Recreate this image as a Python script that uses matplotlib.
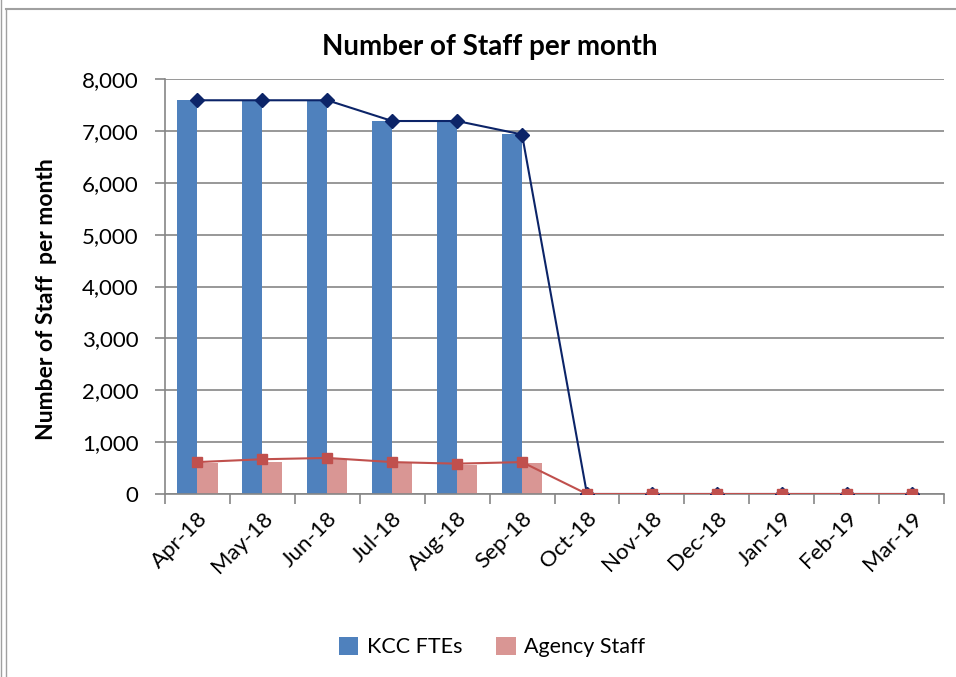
import matplotlib.pyplot as plt
import numpy as np
from matplotlib.lines import Line2D

plt.rcParams['font.family'] = ['Lato', 'DejaVu Sans']

months = ['Apr-18', 'May-18', 'Jun-18', 'Jul-18', 'Aug-18', 'Sep-18',
          'Oct-18', 'Nov-18', 'Dec-18', 'Jan-19', 'Feb-19', 'Mar-19']
kcc_ftes = [7600, 7600, 7600, 7190, 7190, 6940, 0, 0, 0, 0, 0, 0]
agency_staff = [600, 620, 675, 605, 565, 605, 0, 0, 0, 0, 0, 0]
kcc_line = [7590, 7590, 7590, 7190, 7190, 6930, 0, 0, 0, 0, 0, 0]
agency_line = [615, 670, 695, 615, 585, 615, 0, 0, 0, 0, 0, 0]

fig = plt.figure(figsize=(9.56, 6.77), dpi=100)
ax = fig.add_axes([165/956, 1-494/677, (944-165)/956, (494-79)/677])

x = np.arange(len(months))
w = 0.31
ax.bar(x - w/2, kcc_ftes, w, color='#4f81bd', label='KCC FTEs', zorder=2)
ax.bar(x + w/2, agency_staff, w, color='#d99694', label='Agency Staff', zorder=2)
ax.plot(x, kcc_line, color='#0c2468', marker='D', markersize=7, lw=1.5, zorder=3)
ax.plot(x, agency_line, color='#c0504d', marker='s', markersize=7, lw=1.5, zorder=3)

ax.set_xlim(-0.5, len(months) - 0.5)
ax.set_ylim(0, 8000)
ax.set_yticks(range(0, 8001, 1000))
ax.set_yticklabels([f'{v:,}' for v in range(0, 8001, 1000)], fontsize=16)
ax.set_xticks(np.arange(-0.5, len(months), 1), minor=False)
ax.set_xticklabels([])
ax.set_xticks(x, minor=True)
ax.set_xticklabels(months, minor=True, rotation=45, ha='right', rotation_mode='anchor', fontsize=16)
ax.tick_params(axis='x', which='minor', length=0, pad=10)
ax.tick_params(axis='x', which='major', length=7, color='#868686', width=1.2)
ax.tick_params(axis='y', length=7, color='#868686', width=1.2, pad=12)
ax.grid(axis='y', color='#868686', lw=1.2, zorder=0)
for s in ['top', 'right']:
    ax.spines[s].set_visible(False)
ax.spines['left'].set_color('#868686')
ax.spines['bottom'].set_color('#868686')
ax.spines['left'].set_linewidth(1.2)
ax.spines['bottom'].set_linewidth(1.2)

ax.set_ylabel('Number of Staff  per month', fontsize=16.5, fontweight='bold')
ax.yaxis.set_label_coords(-0.138, 0.47)
fig.text(490/956, 1-47/677, 'Number of Staff per month', fontsize=20, fontweight='bold',
         ha='center', va='center')
fig.legend(loc='center', bbox_to_anchor=(492/956, 1-647/677), ncol=2, frameon=False,
           fontsize=15.5, handlelength=0.9, handleheight=0.9, handletextpad=0.4,
           columnspacing=1.6)

fig.add_artist(Line2D([1/956, 1/956], [0, 1], color='#a0a0a0', lw=1))
fig.add_artist(Line2D([6/956, 6/956], [0, 1-9/677], color='#a0a0a0', lw=1))
fig.add_artist(Line2D([6/956, 1], [1-9/677, 1-9/677], color='#a0a0a0', lw=1.5))

fig.savefig('out.png', dpi=100)
